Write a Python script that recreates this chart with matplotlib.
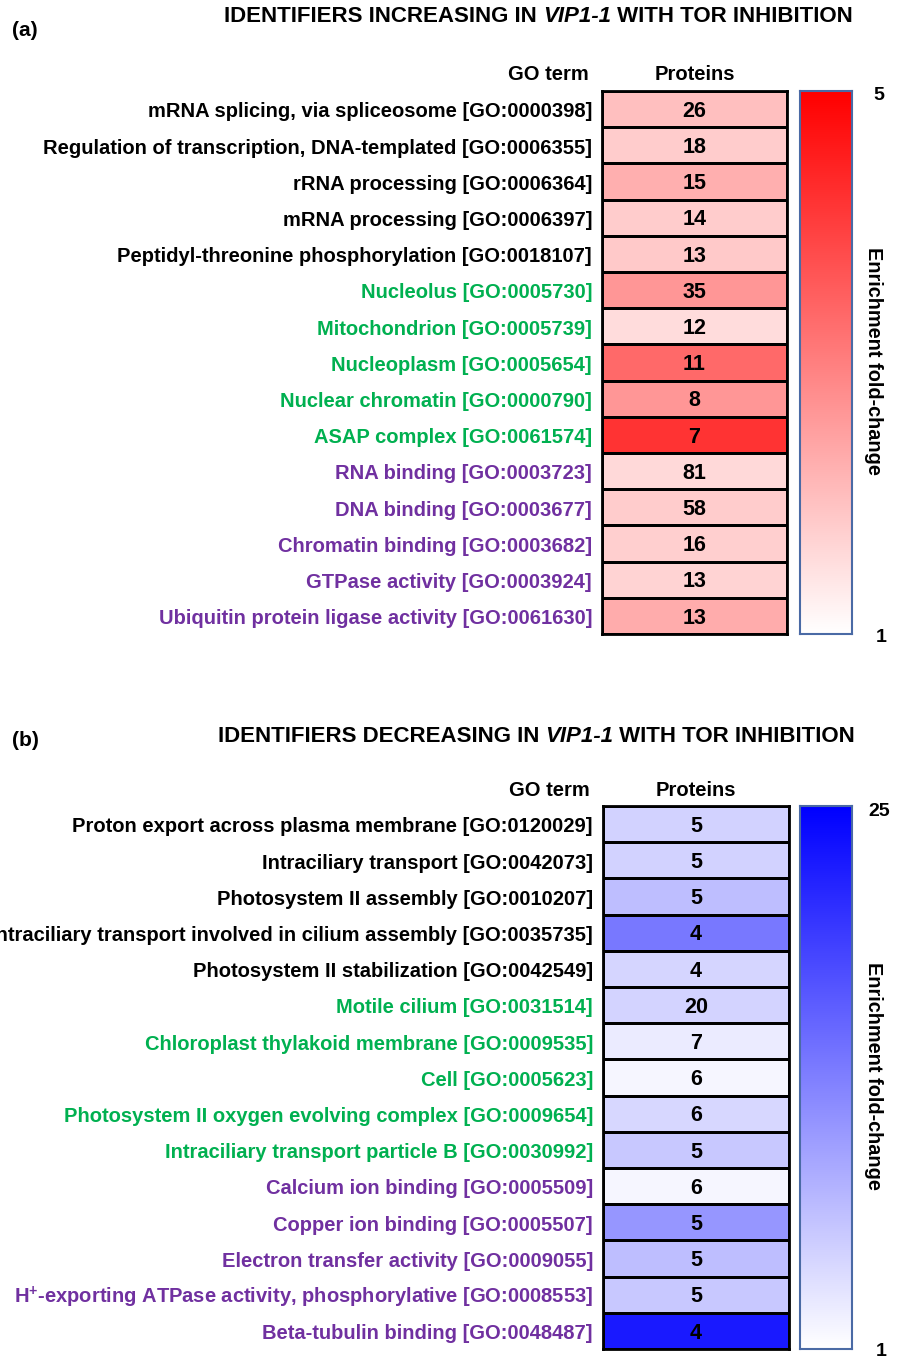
import numpy as np
import matplotlib.pyplot as plt
from matplotlib.colors import LinearSegmentedColormap
from matplotlib.transforms import blended_transform_factory

# ---- data: panel (a) increasing ----
terms_a = ["mRNA splicing, via spliceosome [GO:0000398]",
           "Regulation of transcription, DNA-templated [GO:0006355]",
           "rRNA processing [GO:0006364]",
           "mRNA processing [GO:0006397]",
           "Peptidyl-threonine phosphorylation [GO:0018107]",
           "Nucleolus [GO:0005730]",
           "Mitochondrion [GO:0005739]",
           "Nucleoplasm [GO:0005654]",
           "Nuclear chromatin [GO:0000790]",
           "ASAP complex [GO:0061574]",
           "RNA binding [GO:0003723]",
           "DNA binding [GO:0003677]",
           "Chromatin binding [GO:0003682]",
           "GTPase activity [GO:0003924]",
           "Ubiquitin protein ligase activity [GO:0061630]"]
cats_a = ["bp"] * 5 + ["cc"] * 5 + ["mf"] * 5
proteins_a = [26, 18, 15, 14, 13, 35, 12, 11, 8, 7, 81, 58, 16, 13, 13]
fold_a = [2.0, 1.8, 2.25, 1.8, 1.85, 2.65, 1.55, 3.35, 2.65, 4.2, 1.6, 1.8, 1.75, 1.7, 2.3]

# ---- data: panel (b) decreasing ----
terms_b = ["Proton export across plasma membrane [GO:0120029]",
           "Intraciliary transport [GO:0042073]",
           "Photosystem II assembly [GO:0010207]",
           "Intraciliary transport involved in cilium assembly [GO:0035735]",
           "Photosystem II stabilization [GO:0042549]",
           "Motile cilium [GO:0031514]",
           "Chloroplast thylakoid membrane [GO:0009535]",
           "Cell [GO:0005623]",
           "Photosystem II oxygen evolving complex [GO:0009654]",
           "Intraciliary transport particle B [GO:0030992]",
           "Calcium ion binding [GO:0005509]",
           "Copper ion binding [GO:0005507]",
           "Electron transfer activity [GO:0009055]",
           "H$^{+}$-exporting ATPase activity, phosphorylative [GO:0008553]",
           "Beta-tubulin binding [GO:0048487]"]
cats_b = ["bp"] * 5 + ["cc"] * 5 + ["mf"] * 5
proteins_b = [5, 5, 5, 4, 4, 20, 7, 6, 6, 5, 6, 5, 5, 5, 4]
fold_b = [5.3, 5.3, 7.1, 13.7, 5.0, 5.2, 2.9, 1.9, 4.8, 6.2, 1.9, 10.9, 7.1, 6.2, 22.6]

cat_colors = {"bp": "black", "cc": "#00b050", "mf": "#7030a0"}

plt.rcParams['font.family'] = ['Liberation Sans', 'DejaVu Sans']
plt.rcParams['mathtext.fontset'] = 'custom'
plt.rcParams['mathtext.rm'] = 'Liberation Sans:bold'
plt.rcParams['mathtext.it'] = 'Liberation Sans:bold:italic'
plt.rcParams['mathtext.bf'] = 'Liberation Sans:bold'

W, H = 905, 1358
fig = plt.figure(figsize=(W / 100, H / 100), dpi=100)
renderer = fig.canvas.get_renderer()


def fx(x):
    return x / W


def fy(y):
    return 1 - y / H


def box(x0, y0, x1, y1):
    return [x0 / W, 1 - y1 / H, (x1 - x0) / W, (y1 - y0) / H]


def title(pre, ital, post, x_right, y):
    # place right-aligned pieces from right to left
    t3 = fig.text(fx(x_right), fy(y), post, ha='right', va='center', fontsize=16, fontweight='bold')
    w3 = t3.get_window_extent(renderer).width
    t2 = fig.text(fx(x_right - w3), fy(y), ital, ha='right', va='center', fontsize=16,
                  fontweight='bold', style='italic')
    w2 = t2.get_window_extent(renderer).width
    fig.text(fx(x_right - w3 - w2), fy(y), pre, ha='right', va='center', fontsize=16, fontweight='bold')


def panel(terms, cats, proteins, fold, vmax, cmap, hm_box, cb_box, letter, title_parts, title_y, head_y):
    ax = fig.add_axes(box(*hm_box))
    n = len(terms)
    data = np.array(fold).reshape(n, 1)
    ax.pcolormesh(data, cmap=cmap, vmin=1, vmax=vmax, edgecolors='black', linewidth=2)
    ax.set_xlim(0, 1)
    ax.set_ylim(n, 0)
    ax.set_xticks([])
    ax.set_yticks([])
    for s in ax.spines.values():
        s.set_linewidth(2)
    for i, p in enumerate(proteins):
        ax.text(0.5, i + 0.56, str(p), ha='center', va='center', fontsize=15.5, fontweight='bold')
    tr = blended_transform_factory(fig.transFigure, ax.transData)
    xr = fx(hm_box[0] - 10)
    for i, (t, c) in enumerate(zip(terms, cats)):
        ax.text(xr, i + 0.58, t, transform=tr, ha='right', va='center', fontsize=14.5,
                fontweight='bold', color=cat_colors[c], clip_on=False)
    # column headers
    fig.text(fx(hm_box[0] - 13), fy(head_y), "GO term", ha='right', va='center',
             fontsize=14.5, fontweight='bold')
    fig.text(fx((hm_box[0] + hm_box[2]) / 2), fy(head_y), "Proteins", ha='center', va='center',
             fontsize=14.5, fontweight='bold')

    cax = fig.add_axes(box(*cb_box))
    grad = np.linspace(1, vmax, 256).reshape(-1, 1)
    cax.imshow(grad, aspect='auto', cmap=cmap, vmin=1, vmax=vmax, origin='lower',
               extent=[0, 1, 1, vmax])
    cax.set_xticks([])
    cax.set_yticks([])
    for s in cax.spines.values():
        s.set_edgecolor('#4a6aa5')
        s.set_linewidth(1.5)
    x0, y0, x1, y1 = cb_box
    fig.text(fx(x1 + 27), fy(y0 + 5), str(vmax), ha='center', va='center', fontsize=14, fontweight='bold')
    fig.text(fx(x1 + 29), fy(y1 + 3), "1", ha='center', va='center', fontsize=14, fontweight='bold')
    fig.text(fx(x1 + 21), fy(y0 + (y1 - y0) * 0.497), "Enrichment fold-change", rotation=270,
             ha='center', va='center', fontsize=14.3, fontweight='bold')

    fig.text(fx(12), fy(title_y[1]), letter, ha='left', va='center', fontsize=15, fontweight='bold')
    title(*title_parts, title_y[2], title_y[0])


cmap_red = LinearSegmentedColormap.from_list('wr', ['white', '#ff0000'])
cmap_blue = LinearSegmentedColormap.from_list('wb', ['white', '#0000ff'])

panel(terms_a, cats_a, proteins_a, fold_a, 5, cmap_red,
      (602, 91, 787, 634), (800, 91, 852, 634), "(a)",
      ("IDENTIFIERS INCREASING IN ", "VIP1-1", " WITH TOR INHIBITION"), (17, 31, 853), 75)
panel(terms_b, cats_b, proteins_b, fold_b, 25, cmap_blue,
      (603, 806, 789, 1349), (800, 806, 852, 1349), "(b)",
      ("IDENTIFIERS DECREASING IN ", "VIP1-1", " WITH TOR INHIBITION"), (736, 741, 855), 790)

fig.savefig('out.png', dpi=100)
